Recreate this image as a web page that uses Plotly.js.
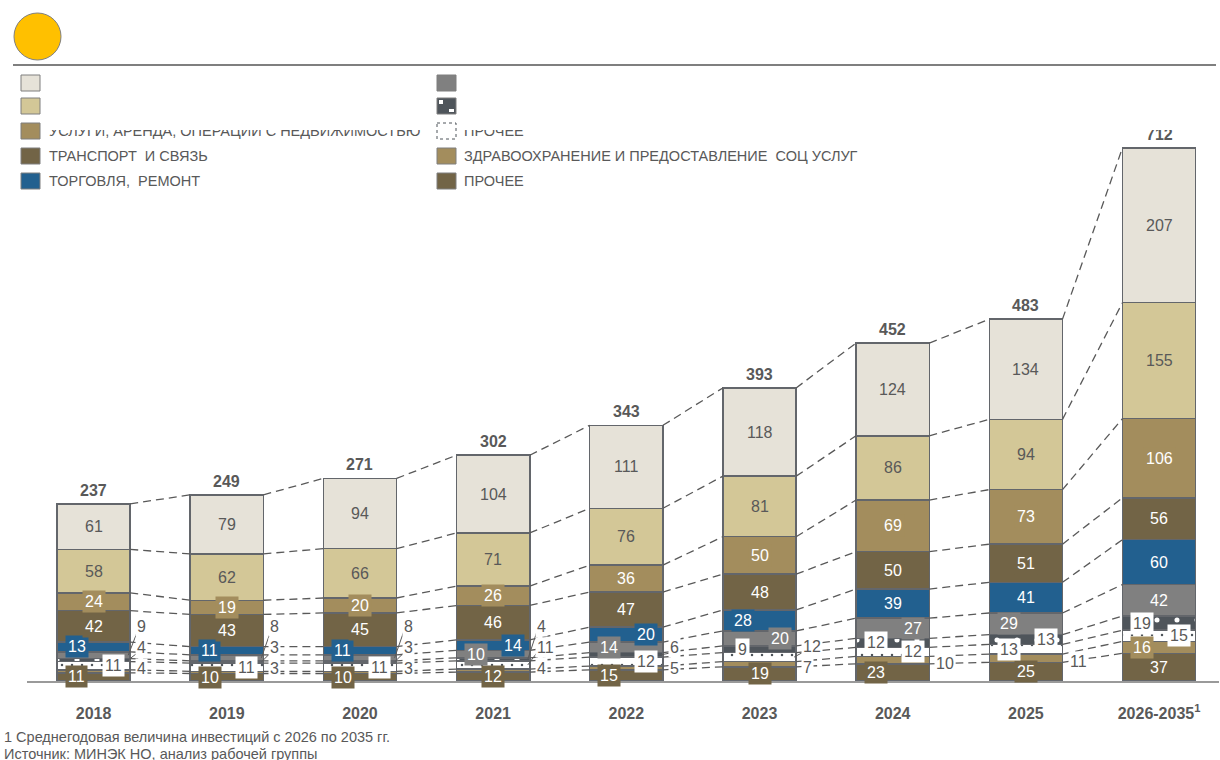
<!DOCTYPE html>
<html><head><meta charset="utf-8">
<script src="https://cdn.plot.ly/plotly-3.0.1.min.js"></script>
<style>
body{margin:0;background:#fff;}
#wrap{position:relative;width:1220px;height:760px;overflow:hidden;}
#chart{width:1220px;height:760px;}
.clip{position:absolute;background:#fff;}
</style>
</head><body>
<div id="wrap"><div id="chart"></div>
<div class="clip" style="left:44px;top:67px;width:388px;height:63px"></div>
<div class="clip" style="left:461px;top:67px;width:759px;height:63px"></div>
</div>
<script>
// ---------------- DATA ----------------
const years = ['2018','2019','2020','2021','2022','2023','2024','2025','2026-2035'];
const totals = [237,249,271,302,343,393,452,483,712];
// stacked from bottom to top
const otherBottom = [11,10,10,12,15,19,23,25,37];       // ПРОЧЕЕ (dark brown)
const health      = [4,3,3,4,5,7,10,11,16];              // ЗДРАВООХРАНЕНИЕ ...
const otherDotted = [11,11,11,11,12,12,12,13,15];        // ПРОЧЕЕ (dotted)
const darkPattern = [4,3,3,4,6,9,12,13,19];
const greySeries  = [9,8,8,10,14,20,27,29,42];
const trade       = [13,11,11,14,20,28,39,41,60];        // ТОРГОВЛЯ, РЕМОНТ
const transport   = [42,43,45,46,47,48,50,51,56];        // ТРАНСПОРТ И СВЯЗЬ
const services    = [24,19,20,26,36,50,69,73,106];       // УСЛУГИ, АРЕНДА ...
const lightTan    = [58,62,66,71,76,81,86,94,155];
const lightest    = [61,79,94,104,111,118,124,134,207];

const legendCol1 = ['', '', 'УСЛУГИ, АРЕНДА, ОПЕРАЦИИ С НЕДВИЖИМОСТЬЮ', 'ТРАНСПОРТ\u00a0\u00a0И СВЯЗЬ', 'ТОРГОВЛЯ,\u00a0\u00a0РЕМОНТ'];
const legendCol2 = ['', '', 'ПРОЧЕЕ', 'ЗДРАВООХРАНЕНИЕ И ПРЕДОСТАВЛЕНИЕ\u00a0\u00a0СОЦ УСЛУГ', 'ПРОЧЕЕ'];
const footnote1 = '1 Среднегодовая величина инвестиций с 2026 по 2035 гг.';
const footnote2 = 'Источник: МИНЭК НО, анализ рабочей группы';

// ---------------- STYLE ----------------
const C = {
  lightest:'#E6E2D8', lightTan:'#D3C797', services:'#A38D5D', transport:'#726446',
  trade:'#22608F', grey:'#808080', dark:'#4F555B', health:'#A38D5D', other:'#726446',
  text:'#595959', outline:'#63666B'
};
// label placement: c=center, l=left box, r=right box, o=outside right
const P_center = ['c','c','c','c','c','c','c','c','c'];
const P_trade  = ['l','l','l','r','r','l','c','c','c'];
const P_grey   = ['o','o','o','l','l','r','r','l','c'];
const P_dark   = ['o','o','o','o','o','l','l','r','l'];
const P_dotted = ['r','r','r','o','r','o','r','l','r'];
const P_health = ['o','o','o','o','o','o','o','o','l'];
const P_other  = ['l','l','l','c','l','c','l','c','c'];

const W = 1220, H = 760;
const M = {l:27, r:1, t:130, b:79};
const plotW = W - M.l - M.r, plotH = H - M.t - M.b;
const xRange = [-0.5, 8.45], yMax = 737;
const ppu = plotH / yMax;                       // px per value unit
const pxX = plotW / (xRange[1] - xRange[0]);    // px per category
const barW = 0.55;
const baseY = H - M.b;
const FONT = '"Liberation Sans", Arial, sans-serif';

const series = [
  {v:otherBottom, color:C.other,    font:'#fff',  box:C.other,    place:P_other},
  {v:health,      color:C.health,   font:'#fff',  box:C.health,   place:P_health},
  {v:otherDotted, color:'#FFFFFF',  font:C.text,  box:'#FFFFFF',  place:P_dotted,
     pattern:{shape:'.', fgcolor:C.dark, bgcolor:'#FFFFFF', size:10, solidity:0.05}},
  {v:darkPattern, color:C.dark,     font:C.text,  box:'#FFFFFF',  place:P_dark,
     pattern:{shape:'.', fgcolor:'#FFFFFF', bgcolor:C.dark, size:20, solidity:0.05}},
  {v:greySeries,  color:C.grey,     font:'#fff',  box:C.grey,     place:P_grey},
  {v:trade,       color:C.trade,    font:'#fff',  box:C.trade,    place:P_trade},
  {v:transport,   color:C.transport,font:'#fff',  box:C.transport,place:P_center},
  {v:services,    color:C.services, font:'#fff',  box:C.services, place:P_center},
  {v:lightTan,    color:C.lightTan, font:C.text,  box:null,       place:P_center},
  {v:lightest,    color:C.lightest, font:C.text,  box:null,       place:P_center}
];

const xs = years.map((_, i) => i);
const traces = [];
const annotations = [];
const shapes = [];

// cumulative boundaries
const cum = [xs.map(() => 0)];
series.forEach((s, k) => cum.push(xs.map(i => cum[k][i] + s.v[i])));

// dashed connectors (behind bars)
for (let k = 1; k < cum.length; k++) {
  const lx = [], ly = [];
  for (let i = 0; i < xs.length - 1; i++) {
    lx.push(i + barW/2, i + 1 - barW/2, null);
    ly.push(cum[k][i], cum[k][i+1], null);
  }
  traces.push({type:'scatter', mode:'lines', x:lx, y:ly, hoverinfo:'skip', showlegend:false,
    line:{color:C.text, width:1.3, dash:'8px,5px'}});
}

// bars
series.forEach(s => {
  const m = {color:s.color, line:{color:C.outline, width:1.5}};
  if (s.pattern) m.pattern = s.pattern;
  traces.push({type:'bar', x:xs, y:s.v, width:barW, marker:m, showlegend:false, hoverinfo:'skip'});
});

// segment labels
const pxOf = v => baseY - v * ppu;
const valOf = p => (baseY - p) / ppu;
xs.forEach(i => {
  let prev = Infinity;
  series.forEach((s, k) => {
    const c = (cum[k][i] + cum[k+1][i]) / 2;
    const pl = s.place[i];
    const base = {x:i, text:String(s.v[i]), showarrow:false, yanchor:'middle',
      font:{family:FONT, size:16, color:s.font}};
    if (pl === 'o') {
      const cpx = pxOf(c);
      const ypx = Math.min(cpx + 3, 668, prev - 21);
      prev = ypx;
      annotations.push(Object.assign(base, {y:valOf(ypx), xanchor:'left',
        xshift: barW/2*pxX + 5, font:{family:FONT, size:16, color:C.text},
        bgcolor:'#FFFFFF', borderpad:1}));
      if (Math.abs(ypx - cpx) > 6) {
        shapes.push({type:'line', xref:'x', yref:'y',
          x0: i + barW/2 - 2/pxX, y0: c, x1: i + barW/2 + 7/pxX, y1: valOf(ypx + 6),
          line:{color:C.text, width:1}});
      }
    } else {
      const sh = pl === 'l' ? -17 : (pl === 'r' ? 20 : 0);
      const a = Object.assign(base, {y:c, xshift:sh, xanchor:'center', borderpad:2});
      if (s.box) a.bgcolor = s.box;
      annotations.push(a);
    }
  });
  // totals
  annotations.push({x:i, y:cum[cum.length-1][i], text:'<b>' + totals[i] + '</b>', showarrow:false,
    xanchor:'center', yanchor:'bottom', yshift:3, font:{family:FONT, size:16, color:C.text}});
});

// ---------------- HEADER / LEGEND (paper coords from px) ----------------
const PX = x => (x - M.l) / plotW;
const PY = y => (baseY - y) / plotH;
shapes.push({type:'circle', xref:'paper', yref:'paper', x0:PX(14), x1:PX(61), y0:PY(13), y1:PY(60),
  fillcolor:'#FFC000', line:{color:'#7F7F7F', width:1}});
shapes.push({type:'line', xref:'paper', yref:'paper', x0:PX(13), x1:PX(1216), y0:PY(65), y1:PY(65),
  line:{color:'#7F7F7F', width:2}});

const rowsY = [83, 106, 131, 156, 181];
const col1Colors = [C.lightest, C.lightTan, C.services, C.transport, C.trade];
const col2Colors = [C.grey, C.dark, '#FFFFFF', C.health, C.other];
function sq(x, y, fill, dash) {
  shapes.push({type:'rect', xref:'paper', yref:'paper', x0:PX(x), x1:PX(x+19), y0:PY(y-8), y1:PY(y+8),
    fillcolor:fill, line:{color: dash ? C.dark : '#7F7F7F', width:1, dash: dash ? 'dot' : 'solid'}});
}
const legFont = {family:FONT, size:14.5, color:C.text};
rowsY.forEach((y, r) => {
  sq(21, y, col1Colors[r]);
  sq(437, y, col2Colors[r], r === 2);
  if (legendCol1[r]) annotations.push({xref:'paper', yref:'paper', x:PX(47), y:PY(y), xanchor:'left',
    yanchor:'middle', text:legendCol1[r], showarrow:false, font:legFont});
  if (legendCol2[r]) annotations.push({xref:'paper', yref:'paper', x:PX(462), y:PY(y), xanchor:'left',
    yanchor:'middle', text:legendCol2[r], showarrow:false, font:legFont});
});
// pattern marks on dark legend square
shapes.push({type:'rect', xref:'paper', yref:'paper', x0:PX(439), x1:PX(443), y0:PY(100), y1:PY(104),
  fillcolor:'#FFFFFF', line:{width:0}});
shapes.push({type:'rect', xref:'paper', yref:'paper', x0:PX(449), x1:PX(454), y0:PY(109), y1:PY(112),
  fillcolor:'#FFFFFF', line:{width:0}});

// footnotes
annotations.push({xref:'paper', yref:'paper', x:PX(2), y:PY(737), xanchor:'left', yanchor:'middle',
  showarrow:false, text:footnote1, font:{family:FONT, size:14.5, color:C.text}});
annotations.push({xref:'paper', yref:'paper', x:PX(2), y:PY(754), xanchor:'left', yanchor:'middle',
  showarrow:false, text:footnote2, font:{family:FONT, size:14.5, color:C.text}});

const layout = {
  width:W, height:H, margin:M, paper_bgcolor:'#fff', plot_bgcolor:'#fff',
  barmode:'stack', showlegend:false,
  font:{family:FONT, color:C.text},
  xaxis:{range:xRange, tickvals:xs,
    ticktext: years.map((y, i) => i === years.length-1 ? '<b>' + y + '<sup>1</sup></b>' : '<b>' + y + '</b>'),
    showgrid:false, zeroline:false, showline:true, linecolor:'#9A9A9A', linewidth:1.5,
    ticks:'', ticklabelstandoff:17, tickfont:{family:FONT, size:16, color:C.text}, fixedrange:true},
  yaxis:{range:[0, yMax], visible:false, fixedrange:true},
  annotations, shapes
};
Plotly.newPlot('chart', traces, layout, {displayModeBar:false, staticPlot:true});
</script>
</body></html>
